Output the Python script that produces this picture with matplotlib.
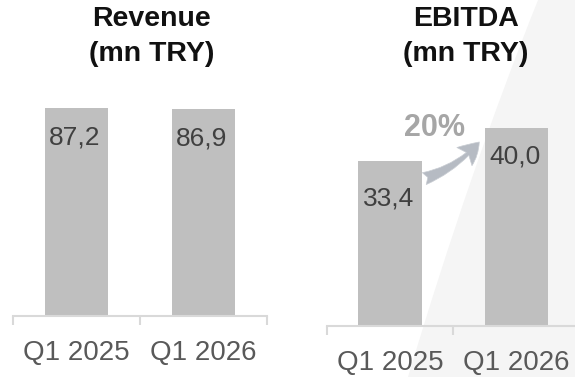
import matplotlib.pyplot as plt
from matplotlib.patches import PathPatch, FancyArrowPatch
from matplotlib.path import Path

plt.rcParams['font.family'] = ['Liberation Sans', 'DejaVu Sans']

periodos = ['Q1 2025', 'Q1 2026']
ingresos = [87.2, 86.9]
ebitda = [33.4, 40.0]
etiquetas_ingresos = ['87,2', '86,9']
etiquetas_ebitda = ['33,4', '40,0']
crecimiento = '20%'

W, H = 575, 377
fig = plt.figure(figsize=(W / 100, H / 100), dpi=100)
fig.patch.set_facecolor('white')

# fondo gris claro con borde curvo a la derecha
verts = [(408 / W, 0), (470 / W, 0.55), (538 / W, 1), (1, 1), (1, 0), (408 / W, 0)]
codes = [Path.MOVETO, Path.CURVE3, Path.CURVE3, Path.LINETO, Path.LINETO, Path.CLOSEPOLY]
fondo = PathPatch(Path(verts, codes), transform=fig.transFigure,
                  facecolor='#f5f5f5', edgecolor='none', zorder=-1)
fig.patches.append(fondo)


def ejes(x0, base, ancho, alto):
    # rectangulo en pixeles (izquierda, linea base desde arriba)
    return fig.add_axes([x0 / W, (H - base) / H, ancho / W, alto / H])


def panel(ax, valores, etiquetas, ymax, desplaz):
    ax.set_facecolor('none')
    x = range(len(valores))
    ax.bar(x, valores, width=0.5, color='#bfbfbf', zorder=2)
    ax.set_xlim(-0.5, len(valores) - 0.5)
    ax.set_ylim(0, ymax)
    for s in ['top', 'right', 'left']:
        ax.spines[s].set_visible(False)
    ax.spines['bottom'].set_color('#d9d9d9')
    ax.spines['bottom'].set_linewidth(1.5)
    ax.set_yticks([])
    ax.set_xticks(list(x))
    ax.set_xticklabels(periodos, fontsize=20, color='#595959')
    ax.tick_params(axis='x', which='major', length=0, pad=17)
    ax.set_xticks([i - 0.5 for i in range(len(valores) + 1)], minor=True)
    ax.tick_params(axis='x', which='minor', length=6.5, width=1.5, color='#d9d9d9')
    for i, (v, t) in enumerate(zip(valores, etiquetas)):
        ax.annotate(t, (i - 0.25, v), xytext=(3, -desplaz[i]), textcoords='offset points',
                    ha='left', va='center', fontsize=19, color='#404040', zorder=3)


ax1 = ejes(13, 316, 254, 236)
panel(ax1, ingresos, etiquetas_ingresos, 236 / 2.385, [21.5, 21.5])

ax2 = ejes(326.75, 326, 253, 236)
panel(ax2, ebitda, etiquetas_ebitda, 236 / 4.95, [27, 20.5])

# flecha de crecimiento (cola afilada)
flecha = FancyArrowPatch((0.25, ebitda[0] - 3.8), (0.72, ebitda[1] - 2.4),
                         connectionstyle='arc3,rad=0.15',
                         arrowstyle='fancy,head_length=15,head_width=17,tail_width=9',
                         facecolor='#b6bbc3', edgecolor='#c9cdd3', linewidth=0.5,
                         mutation_scale=1, zorder=4)
ax2.add_patch(flecha)
ax2.annotate(crecimiento, (0.0, ebitda[1]), xytext=(0.35, 0), textcoords=('data', 'offset points'),
             ha='center', va='center', fontsize=22, fontweight='bold', color='#a6a6a6')

for cx, titulo in [(152, 'Revenue'), (466, 'EBITDA')]:
    fig.text(cx / W, 1 - 19 / H, titulo, ha='center', va='center',
             fontsize=20.5, fontweight='bold', color='#111111')
    fig.text(cx / W, 1 - 54 / H, '(mn TRY)', ha='center', va='center',
             fontsize=20.5, fontweight='bold', color='#111111')

fig.savefig('out.png', dpi=100)
